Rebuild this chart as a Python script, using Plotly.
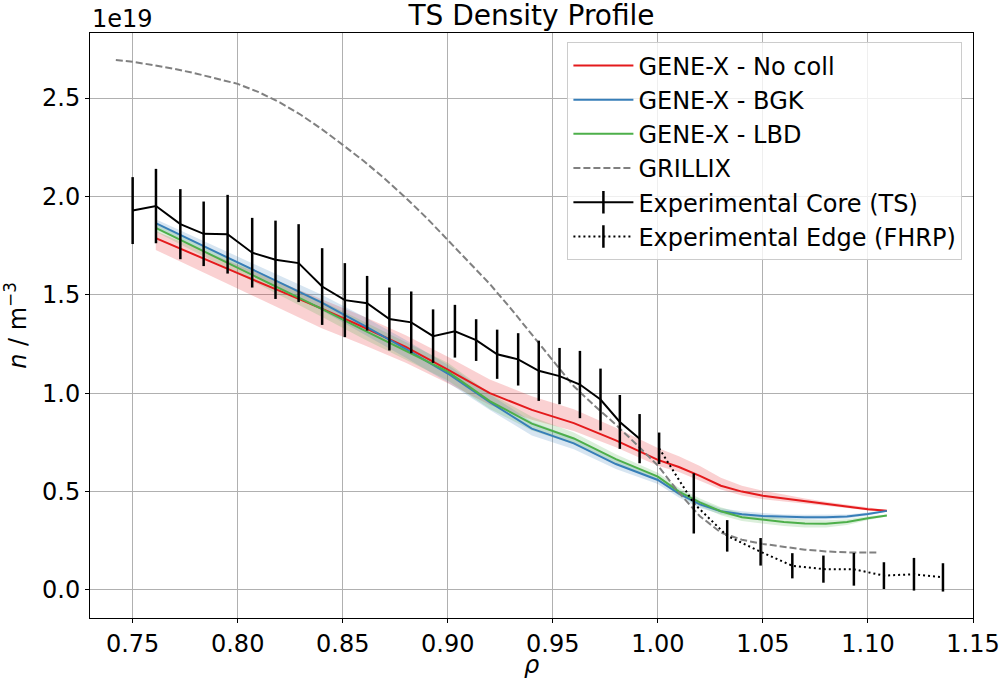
import plotly.graph_objects as go

# ---------------- data (density in units of 1e19 m^-3) ----------------
rho_gx = [0.761, 0.78, 0.80, 0.82, 0.84, 0.86, 0.88, 0.90, 0.92, 0.94, 0.96, 0.98,
          1.00, 1.01, 1.02, 1.03, 1.04, 1.05, 1.06, 1.07, 1.08, 1.09, 1.10, 1.109]

n_nocoll = [1.788, 1.70, 1.61, 1.52, 1.43, 1.335, 1.235, 1.12, 1.00, 0.915, 0.848, 0.76,
            0.661, 0.625, 0.58, 0.53, 0.50, 0.479, 0.465, 0.45, 0.437, 0.425, 0.41, 0.402]
nocoll_up = [0.035, 0.04, 0.045, 0.045, 0.05, 0.055, 0.06, 0.065, 0.07, 0.07, 0.07, 0.065,
             0.06, 0.055, 0.05, 0.04, 0.03, 0.025, 0.02, 0.015, 0.012, 0.01, 0.008, 0.005]
nocoll_lo = [0.06, 0.07, 0.08, 0.09, 0.10, 0.09, 0.08, 0.07, 0.06, 0.05, 0.04, 0.035,
             0.03, 0.025, 0.025, 0.02, 0.02, 0.018, 0.015, 0.012, 0.01, 0.008, 0.006, 0.005]

n_bgk = [1.864, 1.767, 1.665, 1.562, 1.46, 1.345, 1.225, 1.10, 0.955, 0.82, 0.745, 0.64,
         0.559, 0.49, 0.435, 0.40, 0.385, 0.376, 0.372, 0.370, 0.370, 0.373, 0.386, 0.402]
bgk_err = [0.02, 0.025, 0.03, 0.035, 0.04, 0.045, 0.045, 0.045, 0.04, 0.035, 0.03, 0.025,
           0.02, 0.02, 0.018, 0.015, 0.015, 0.015, 0.012, 0.012, 0.012, 0.01, 0.008, 0.005]

n_lbd = [1.840, 1.741, 1.637, 1.533, 1.429, 1.32, 1.215, 1.11, 0.96, 0.845, 0.77, 0.665,
         0.576, 0.50, 0.445, 0.40, 0.37, 0.356, 0.345, 0.338, 0.336, 0.345, 0.365, 0.378]
lbd_err = [0.02, 0.025, 0.03, 0.035, 0.04, 0.045, 0.045, 0.045, 0.04, 0.035, 0.03, 0.025,
           0.02, 0.02, 0.02, 0.02, 0.02, 0.02, 0.02, 0.02, 0.018, 0.015, 0.01, 0.005]

rho_grillix = [0.742, 0.75, 0.76, 0.77, 0.78, 0.79, 0.80, 0.81, 0.82, 0.83, 0.84, 0.85,
               0.86, 0.87, 0.88, 0.89, 0.90, 0.91, 0.92, 0.93, 0.94, 0.95, 0.96, 0.97,
               0.98, 0.99, 1.00, 1.01, 1.02, 1.03, 1.04, 1.05, 1.06, 1.07, 1.08, 1.09, 1.1045]
n_grillix = [2.693, 2.684, 2.667, 2.648, 2.625, 2.600, 2.572, 2.530, 2.478, 2.415, 2.342, 2.262,
             2.180, 2.090, 1.993, 1.890, 1.780, 1.670, 1.555, 1.430, 1.300, 1.165, 1.035, 0.935,
             0.840, 0.738, 0.632, 0.495, 0.375, 0.292, 0.255, 0.234, 0.218, 0.205, 0.196, 0.191, 0.190]

rho_ts = [0.7500, 0.7611, 0.7727, 0.7838, 0.7952, 0.8069, 0.8180, 0.8290, 0.8402, 0.8510,
          0.8616, 0.8722, 0.8826, 0.8930, 0.9034, 0.9135, 0.9235, 0.9335, 0.9433, 0.9532,
          0.9629, 0.9727, 0.9819, 0.9913]
n_ts = [1.928, 1.951, 1.859, 1.810, 1.808, 1.714, 1.678, 1.661, 1.542, 1.473,
        1.457, 1.377, 1.360, 1.290, 1.315, 1.270, 1.198, 1.172, 1.114, 1.087,
        1.044, 0.968, 0.854, 0.769]
err_ts = [0.170, 0.189, 0.178, 0.164, 0.200, 0.177, 0.199, 0.198, 0.195, 0.188,
          0.139, 0.160, 0.157, 0.136, 0.134, 0.106, 0.125, 0.133, 0.153, 0.143,
          0.171, 0.157, 0.137, 0.125]

rho_fhrp = [1.0006, 1.0171, 1.0330, 1.0489, 1.0640, 1.0788, 1.0933, 1.1076, 1.1219, 1.1357]
n_fhrp = [0.720, 0.440, 0.275, 0.194, 0.123, 0.106, 0.105, 0.073, 0.080, 0.064]
err_fhrp = [0.080, 0.153, 0.080, 0.070, 0.064, 0.069, 0.083, 0.068, 0.083, 0.072]

x_ticks = [0.75, 0.80, 0.85, 0.90, 0.95, 1.00, 1.05, 1.10, 1.15]
y_ticks = [0.0, 0.5, 1.0, 1.5, 2.0, 2.5]
x_range = [0.7297, 1.15]
y_range = [-0.1424, 2.8305]

RED = "#e41a1c"
BLUE = "#377eb8"
GREEN = "#4daf4a"
FONT = "DejaVu Sans"

fig = go.Figure()


def band(x, lo, hi, rgba):
    fig.add_trace(go.Scatter(
        x=list(x) + list(x)[::-1], y=list(hi) + list(lo)[::-1],
        fill="toself", fillcolor=rgba, line=dict(width=0), mode="lines",
        hoverinfo="skip", showlegend=False))


band(rho_gx, [a - b for a, b in zip(n_nocoll, nocoll_lo)],
     [a + b for a, b in zip(n_nocoll, nocoll_up)], "rgba(228,26,28,0.2)")
band(rho_gx, [a - b for a, b in zip(n_bgk, bgk_err)],
     [a + b for a, b in zip(n_bgk, bgk_err)], "rgba(55,126,184,0.2)")
band(rho_gx, [a - b for a, b in zip(n_lbd, lbd_err)],
     [a + b for a, b in zip(n_lbd, lbd_err)], "rgba(77,175,74,0.2)")

fig.add_trace(go.Scatter(x=rho_gx, y=n_nocoll, mode="lines", name="GENE-X - No coll",
                         line=dict(color=RED, width=2), legendgroup="a"))
fig.add_trace(go.Scatter(x=rho_gx, y=n_bgk, mode="lines", name="GENE-X - BGK",
                         line=dict(color=BLUE, width=2), legendgroup="b"))
fig.add_trace(go.Scatter(x=rho_gx, y=n_lbd, mode="lines", name="GENE-X - LBD",
                         line=dict(color=GREEN, width=2), legendgroup="c"))
fig.add_trace(go.Scatter(x=rho_grillix, y=n_grillix, mode="lines", name="GRILLIX",
                         line=dict(color="#808080", width=2, dash="7px,3px"), legendgroup="d"))

# experimental data with error bars
fig.add_trace(go.Scatter(x=rho_ts, y=n_ts, mode="lines", showlegend=False,
                         line=dict(color="black", width=2),
                         error_y=dict(type="data", array=err_ts, color="black",
                                      thickness=2.5, width=0)))
fig.add_trace(go.Scatter(x=rho_fhrp, y=n_fhrp, mode="lines", showlegend=False,
                         line=dict(color="black", width=2, dash="2px,3px"),
                         error_y=dict(type="data", array=err_fhrp, color="black",
                                      thickness=2.5, width=0)))
# legend entries for the experimental data (line + vertical bar glyph)
fig.add_trace(go.Scatter(x=[None], y=[None], mode="lines+markers", name="Experimental Core (TS)",
                         line=dict(color="black", width=2), legendgroup="e",
                         marker=dict(symbol="line-ns", size=22,
                                     line=dict(color="black", width=2.5))))
fig.add_trace(go.Scatter(x=[None], y=[None], mode="lines+markers",
                         name="Experimental Edge (FHRP)",
                         line=dict(color="black", width=2, dash="2px,3px"), legendgroup="f",
                         marker=dict(symbol="line-ns", size=22,
                                     line=dict(color="black", width=2.5))))

axis_common = dict(showline=True, linecolor="black", linewidth=1, mirror=True,
                   showgrid=True, gridcolor="#b0b0b0", gridwidth=1, automargin=False,
                   ticks="outside", ticklen=4, tickwidth=1, tickcolor="black",
                   zeroline=False, tickfont=dict(family=FONT, size=24, color="black"))

fig.update_layout(
    width=1001, height=680,
    margin=dict(l=90, r=28, t=33, b=62),
    paper_bgcolor="white", plot_bgcolor="white",
    font=dict(family=FONT, size=24, color="black"),
    title=dict(text="TS Density Profile", x=0.5, xref="paper", xanchor="center",
               y=0.992, yref="container", yanchor="top",
               font=dict(family=FONT, size=28, color="black")),
    xaxis=dict(range=x_range, tickvals=x_ticks,
               ticktext=[f"{v:.2f}" for v in x_ticks],
               **axis_common),
    yaxis=dict(range=y_range, tickvals=y_ticks,
               ticktext=[f"{v:.1f}" for v in y_ticks],
               title=dict(text="<i>n</i> / m<sup>−3</sup>", standoff=10,
                          font=dict(family=FONT, size=24, color="black")),
               **axis_common),
    legend=dict(x=0.988, xanchor="right", y=0.984, yanchor="top",
                bgcolor="rgba(255,255,255,0.8)", bordercolor="#cccccc", borderwidth=1,
                font=dict(family=FONT, size=24, color="black"),
                itemwidth=60, tracegroupgap=0, traceorder="grouped"),
    annotations=[
        dict(text="1e19", x=0, xref="paper", xanchor="left",
             y=1, yref="paper", yanchor="bottom", yshift=-2, showarrow=False,
             font=dict(family=FONT, size=24, color="black")),
        dict(text="<i>ρ</i>", x=0.5, xref="paper", xanchor="center",
             y=0, yref="paper", yanchor="bottom", yshift=-62, showarrow=False,
             borderpad=0, font=dict(family=FONT, size=24, color="black")),
    ],
)

fig.write_html("out.html")
